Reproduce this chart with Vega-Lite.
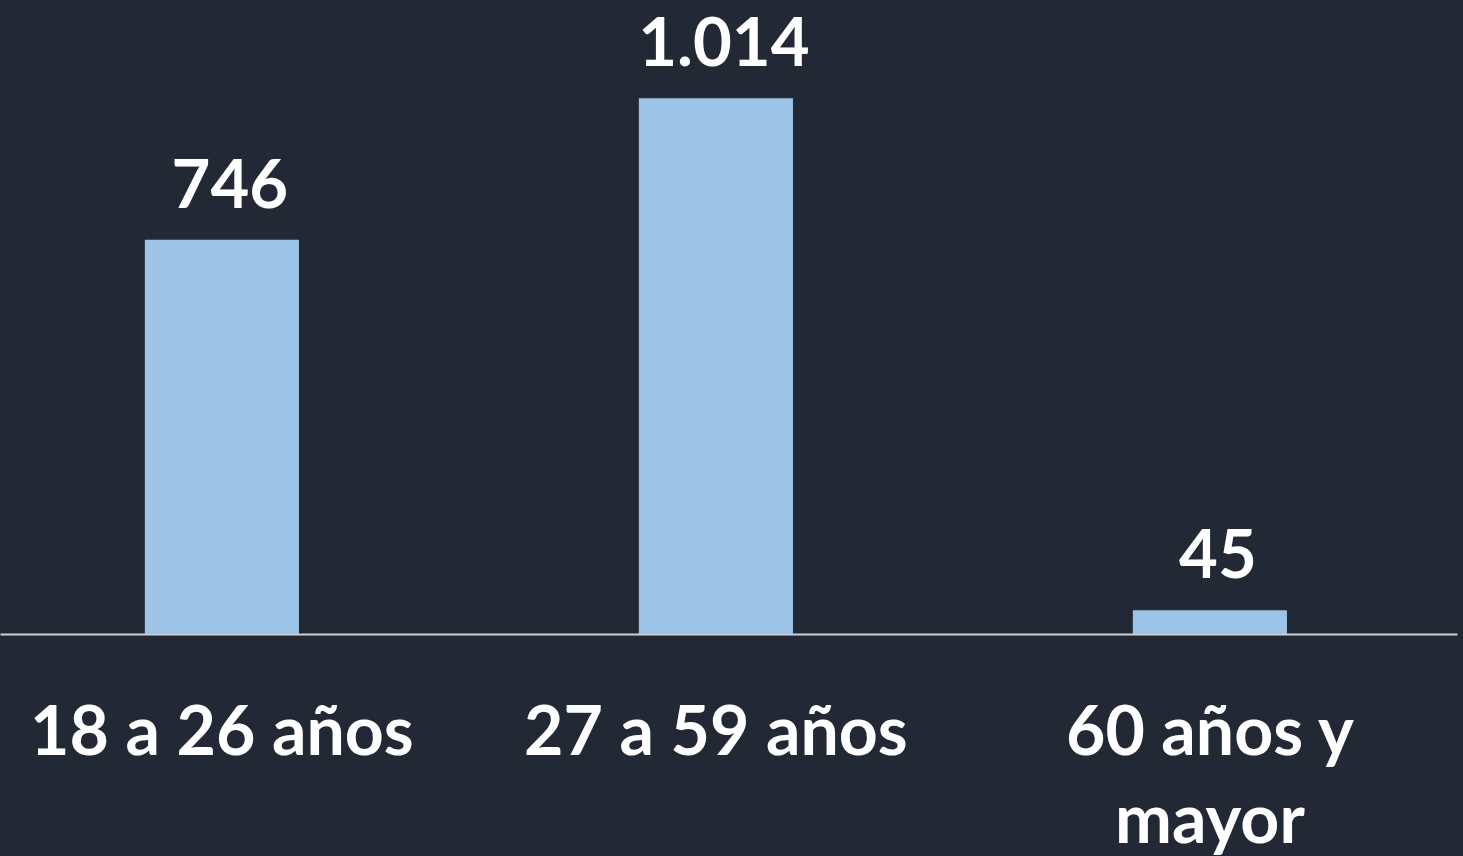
{
  "$schema": "https://vega.github.io/schema/vega-lite/v6.json",
  "width": 1457,
  "height": 634,
  "autosize": "none",
  "padding": {"left": 0, "top": 0, "right": 6, "bottom": 222},
  "background": "#222935",
  "config": {
    "view": {"stroke": null},
    "locale": {"number": {"decimal": ",", "thousands": ".", "grouping": [3], "currency": ["$", ""]}}
  },
  "data": {
    "values": [
      {"grupo": "18 a 26 años", "valor": 746},
      {"grupo": "27 a 59 años", "valor": 1014},
      {"grupo": "60 años y mayor", "valor": 45}
    ]
  },
  "encoding": {
    "x": {
      "field": "grupo",
      "type": "nominal",
      "sort": null,
      "scale": {"paddingInner": 0.688, "paddingOuter": 0.3187, "align": 0.46},
      "axis": {
        "title": null,
        "ticks": false,
        "labelAngle": 0,
        "labelFont": "Lato",
        "labelFontWeight": "bold",
        "labelFontSize": 68,
        "labelColor": "#ffffff",
        "labelBaseline": "alphabetic",
        "labelPadding": 120,
        "labelLineHeight": 88,
        "labelLimit": 0,
        "labelExpr": "datum.label == '60 años y mayor' ? ['60 años y', 'mayor'] : datum.label",
        "domainColor": "#d0d3d8",
        "domainWidth": 2
      }
    },
    "y": {
      "field": "valor",
      "type": "quantitative",
      "scale": {"domain": [0, 1200]},
      "axis": null
    }
  },
  "layer": [
    {"mark": {"type": "bar", "color": "#9dc3e6"}},
    {
      "mark": {
        "type": "text",
        "font": "Lato",
        "fontWeight": "bold",
        "fontSize": 67,
        "color": "#ffffff",
        "baseline": "alphabetic",
        "dx": 8,
        "dy": -32
      },
      "encoding": {"text": {"field": "valor", "type": "quantitative", "format": ",d"}}
    }
  ]
}
